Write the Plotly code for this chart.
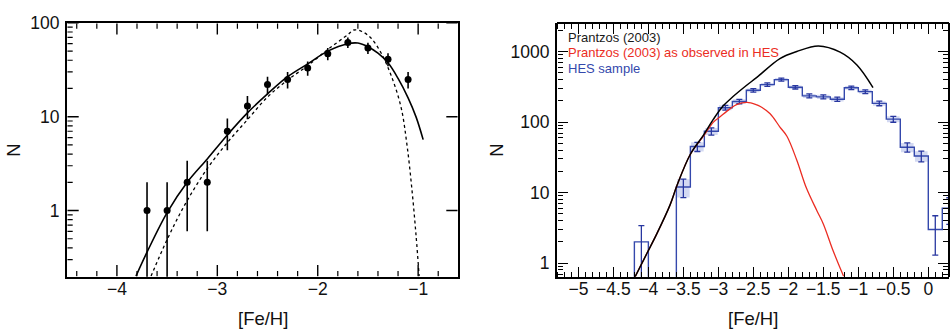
import plotly.graph_objects as go

# ---------------- Left panel data ----------------
obs_feh = [-3.7, -3.5, -3.3, -3.1, -2.9, -2.7, -2.5, -2.3, -2.1, -1.9, -1.7, -1.5, -1.3, -1.1]
obs_n = [1, 1, 2, 2, 7, 13, 22, 25, 33, 47, 62, 54, 41, 25]
obs_err = [1, 1, 1.4, 1.4, 2.6, 3.6, 4.7, 5.0, 5.7, 6.9, 7.9, 7.3, 6.4, 5.0]

solid_feh = [-3.81, -3.70, -3.50, -3.30, -3.10, -2.90, -2.70, -2.50, -2.30, -2.10, -1.90,
             -1.70, -1.60, -1.50, -1.40, -1.30, -1.20, -1.10, -1.02, -0.95]
solid_n = [0.2, 0.36, 0.95, 2.0, 3.55, 6.4, 11, 17.5, 26.7, 36.6, 50,
           60, 61, 55.7, 47.5, 37.5, 25.6, 15.9, 9.9, 5.7]

dotted_feh = [-3.66, -3.50, -3.32, -3.10, -2.90, -2.70, -2.50, -2.30, -2.10, -1.90, -1.70,
              -1.64, -1.56, -1.47, -1.37, -1.27, -1.17, -1.11, -1.06, -1.02, -0.99]
dotted_n = [0.2, 0.49, 1.17, 2.8, 5.3, 9.3, 16.2, 24.6, 35, 52, 75,
            84, 81, 69, 48, 27.7, 12.6, 4.9, 1.6, 0.53, 0.2]

# ---------------- Right panel data ----------------
hes_left_edges = [-4.2, -4.0, -3.8, -3.6, -3.4, -3.2, -3.0, -2.8, -2.6, -2.4, -2.2, -2.0,
                  -1.8, -1.6, -1.4, -1.2, -1.0, -0.8, -0.6, -0.4, -0.2, 0.0, 0.2]
hes_n = [2, 0, 0, 12, 45, 74, 160, 196, 282, 340, 400, 312,
         235, 228, 211, 306, 270, 184, 110, 44, 33, 3, 6]
hes_err = [1.4, 0, 0, 3.5, 6.7, 8.6, 12.6, 14.0, 16.8, 18.4, 20.0, 17.7,
           15.3, 15.1, 14.5, 17.5, 16.4, 13.6, 10.5, 6.6, 5.7, 1.7, 2.45]
bin_width = 0.2
right_end = 0.4

prantzos_feh = [-4.19, -4.02, -3.88, -3.69, -3.59, -3.40, -3.21, -3.07, -2.93, -2.79,
                -2.60, -2.45, -2.12, -1.88, -1.57, -1.26, -1.02, -0.79]
prantzos_n = [0.64, 1.38, 2.6, 6.7, 12.7, 35, 66, 110, 170, 230,
              330, 430, 795, 1000, 1200, 980, 645, 308]

hesobs_feh = [-4.19, -4.02, -3.88, -3.69, -3.59, -3.40, -3.21, -3.07, -2.98, -2.83, -2.74,
              -2.59, -2.45, -2.40, -2.26, -2.12, -2.02, -1.88, -1.74, -1.59, -1.50, -1.36, -1.21]
hesobs_n = [0.64, 1.38, 2.6, 6.7, 12.7, 35, 64, 100, 118, 155, 177,
            190, 175, 166, 131, 85, 63, 29, 11.5, 5.5, 3.6, 1.5, 0.65]

legend_labels = ["Prantzos (2003)", "Prantzos (2003) as observed in HES", "HES sample"]

# left-panel axis tick positions
left_x_major = [-4, -3, -2, -1]
left_x_minor = [-4.4, -4.2, -3.8, -3.6, -3.4, -3.2, -2.8, -2.6, -2.4, -2.2, -1.8, -1.6, -1.4, -1.2, -0.8]
left_y_major = [1, 10, 100]
left_y_minor = [0.3, 0.4, 0.5, 0.6, 0.7, 0.8, 0.9, 2, 3, 4, 5, 6, 7, 8, 9, 20, 30, 40, 50, 60, 70, 80, 90]

# ---------------- style ----------------
W, H = 952, 334
BLUE = "rgb(52,72,172)"
BLUE_LIGHT = "rgba(120,140,215,0.33)"
RED = "rgb(235,45,35)"
FONT = "Liberation Sans, Arial, Helvetica, sans-serif"
TICKFONT = dict(family=FONT, size=17.5, color="#111")

ytop = 1 - 13.3 / H
ybot = 1 - 275 / H
LX0, LX1 = 66.7 / W, 458.3 / W
RX0, RX1 = 556.7 / W, 949 / W
PH = 275 - 13.3
LPW = 458.3 - 66.7

L_XR = [-4.5, -0.6]
L_YR = [-0.706, 2.0]
R_XR = [-5.31, 0.296]
R_YR = [-0.193, 3.406]

fig = go.Figure()

# Left panel
fig.add_trace(go.Scatter(x=solid_feh, y=solid_n, mode="lines", line=dict(color="black", width=1.6, shape="spline"),
                         xaxis="x", yaxis="y", showlegend=False))
fig.add_trace(go.Scatter(x=dotted_feh, y=dotted_n, mode="lines", line=dict(color="black", width=1.3, dash="dot", shape="spline"),
                         xaxis="x", yaxis="y", showlegend=False))
err_minus = [min(e, n * 0.995) for e, n in zip(obs_err, obs_n)]
fig.add_trace(go.Scatter(x=obs_feh, y=obs_n, mode="markers",
                         marker=dict(color="black", size=7),
                         error_y=dict(type="data", array=obs_err, arrayminus=err_minus, color="black",
                                      thickness=1.6, width=0),
                         xaxis="x", yaxis="y", showlegend=False))


# left-panel inside ticks, drawn as error-bar strokes through the panel's own axis scales
def yfrac(f):
    return 10 ** (L_YR[0] + f * (L_YR[1] - L_YR[0]))


def xfrac(f):
    return L_XR[0] + f * (L_XR[1] - L_XR[0])


def add_left_ticks(xvals, yvals, length, width, right_side):
    fx = length / PH
    fy = length / LPW
    eps = 0.002
    # bottom ticks (upwards)
    fig.add_trace(go.Scatter(x=xvals, y=[yfrac(eps)] * len(xvals), mode="markers",
                             marker=dict(size=1, color="rgba(0,0,0,0)"),
                             error_y=dict(type="data", symmetric=False,
                                          array=[yfrac(fx) - yfrac(eps)] * len(xvals),
                                          arrayminus=[0] * len(xvals), color="black", thickness=width, width=0),
                             xaxis="x", yaxis="y", showlegend=False, hoverinfo="skip"))
    # top ticks (downwards)
    fig.add_trace(go.Scatter(x=xvals, y=[yfrac(1 - eps)] * len(xvals), mode="markers",
                             marker=dict(size=1, color="rgba(0,0,0,0)"),
                             error_y=dict(type="data", symmetric=False, array=[0] * len(xvals),
                                          arrayminus=[yfrac(1 - eps) - yfrac(1 - fx)] * len(xvals),
                                          color="black", thickness=width, width=0),
                             xaxis="x", yaxis="y", showlegend=False, hoverinfo="skip"))
    # left ticks (rightwards)
    fig.add_trace(go.Scatter(x=[xfrac(eps)] * len(yvals), y=yvals, mode="markers",
                             marker=dict(size=1, color="rgba(0,0,0,0)"),
                             error_x=dict(type="data", symmetric=False, array=[xfrac(fy) - xfrac(eps)] * len(yvals),
                                          arrayminus=[0] * len(yvals), color="black", thickness=width, width=0),
                             xaxis="x", yaxis="y", showlegend=False, hoverinfo="skip"))
    if right_side:
        fig.add_trace(go.Scatter(x=[xfrac(1 - eps)] * len(yvals), y=yvals, mode="markers",
                                 marker=dict(size=1, color="rgba(0,0,0,0)"),
                                 error_x=dict(type="data", symmetric=False, array=[0] * len(yvals),
                                              arrayminus=[xfrac(1 - eps) - xfrac(1 - fy)] * len(yvals),
                                              color="black", thickness=width, width=0),
                                 xaxis="x", yaxis="y", showlegend=False, hoverinfo="skip"))


add_left_ticks(left_x_major, left_y_major, 12, 1.4, True)
add_left_ticks(left_x_minor, left_y_minor, 6, 1.2, False)

# Right panel: error boxes (light)
centers = [e + bin_width / 2 for e in hes_left_edges]
box_x, box_base, box_h = [], [], []
for c, n, e in zip(centers, hes_n, hes_err):
    if n >= 10:
        box_x.append(c)
        box_base.append(n - e)
        box_h.append(2 * e)
fig.add_trace(go.Bar(x=box_x, y=box_h, base=box_base, width=bin_width * 0.9,
                     marker=dict(color=BLUE_LIGHT, line=dict(width=0)),
                     xaxis="x2", yaxis="y2", showlegend=False))

# step histogram
floor = 0.01
vals = [n if n > 0 else floor for n in hes_n]
step_x = [hes_left_edges[0]] + hes_left_edges + [right_end]
step_y = [floor] + vals + [vals[-1]]
fig.add_trace(go.Scatter(x=step_x, y=step_y, mode="lines", line=dict(color=BLUE, width=1.4, shape="hv"),
                         xaxis="x2", yaxis="y2", showlegend=False))
# error bars
eb_x = [c for c, n in zip(centers, hes_n) if n > 0]
eb_y = [n for n in hes_n if n > 0]
eb_e = [e for e, n in zip(hes_err, hes_n) if n > 0]
eb_em = [min(e, n * 0.995) for e, n in zip(eb_e, eb_y)]
fig.add_trace(go.Scatter(x=eb_x, y=eb_y, mode="markers", marker=dict(size=1, color="rgba(0,0,0,0)"),
                         error_y=dict(type="data", array=eb_e, arrayminus=eb_em, color="rgb(40,55,160)",
                                      thickness=1.3, width=3),
                         xaxis="x2", yaxis="y2", showlegend=False))

fig.add_trace(go.Scatter(x=hesobs_feh, y=hesobs_n, mode="lines", line=dict(color=RED, width=1.3, shape="spline"),
                         xaxis="x2", yaxis="y2", showlegend=False))
fig.add_trace(go.Scatter(x=prantzos_feh, y=prantzos_n, mode="lines", line=dict(color="black", width=1.5, shape="spline"),
                         xaxis="x2", yaxis="y2", showlegend=False))

# invisible traces so that the right-panel tick-only frame axes are drawn
for xa, ya in [("x4", "y2"), ("x6", "y2"), ("x2", "y4"), ("x2", "y6")]:
    fig.add_trace(go.Scatter(x=eb_x, y=eb_y, mode="markers", marker=dict(opacity=0, size=1),
                             xaxis=xa, yaxis=ya, showlegend=False, hoverinfo="skip"))

# ---------------- axes ----------------
line = dict(showline=True, linecolor="black", linewidth=1.5, showgrid=False, zeroline=False)
nolabel = dict(showticklabels=False, showgrid=False, zeroline=False)


def tick_x(dtick, minor_dtick, major_len, minor_len):
    return dict(tickmode="linear", tick0=0, dtick=dtick, ticks="outside", ticklen=major_len, tickwidth=1.3,
                tickcolor="black",
                minor=dict(dtick=minor_dtick, ticks="outside", ticklen=minor_len, tickcolor="black", tickwidth=1.1))


def tick_y(major_len, minor_len):
    return dict(type="log", tickmode="linear", tick0=0, dtick=1, ticks="outside", ticklen=major_len, tickwidth=1.3,
                tickcolor="black",
                minor=dict(dtick="D1", ticks="outside", ticklen=minor_len, tickcolor="black", tickwidth=1.1))


fig.update_layout(
    width=W, height=H, margin=dict(l=0, r=0, t=0, b=0),
    paper_bgcolor="white", plot_bgcolor="white", barmode="overlay",
    xaxis=dict(domain=[LX0, LX1], range=L_XR, anchor="y", tickmode="linear", tick0=0, dtick=1, ticks="",
               mirror=True, tickfont=TICKFONT, ticklabelstandoff=-5, **line),
    yaxis=dict(domain=[ybot, ytop], type="log", range=L_YR, anchor="x", tickmode="linear", tick0=0, dtick=1,
               exponentformat="none", ticks="", mirror=True, tickfont=TICKFONT, ticklabelstandoff=2, **line),
    xaxis2=dict(domain=[RX0, RX1], range=R_XR, anchor="y2", tickmode="linear", tick0=0, dtick=0.5, ticks="",
                tickfont=TICKFONT, ticklabelstandoff=-5, **line),
    yaxis2=dict(domain=[ybot, ytop], type="log", range=R_YR, anchor="x2", tickmode="linear", tick0=0, dtick=1,
                exponentformat="none", ticks="", tickfont=TICKFONT, ticklabelstandoff=2, **line),
    xaxis4=dict(overlaying="x2", anchor="free", position=ybot, side="top", range=R_XR, **tick_x(0.5, 0.1, 10, 5), **nolabel),
    xaxis6=dict(overlaying="x2", anchor="free", position=ytop, side="bottom", range=R_XR, **tick_x(0.5, 0.1, 10, 5),
                showticklabels=False, **line),
    yaxis4=dict(overlaying="y2", anchor="free", position=RX0, side="right", range=R_YR, **tick_y(10, 5), **nolabel),
    yaxis6=dict(overlaying="y2", anchor="free", position=RX1, side="left", range=R_YR, **tick_y(10, 5),
                showticklabels=False, **line),
)

ann = []
titlefont = dict(family=FONT, size=18.5, color="#111")
ann.append(dict(text="[Fe/H]", x=(LX0 + LX1) / 2, y=1 - 318 / H, xref="paper", yref="paper",
                showarrow=False, font=titlefont, xanchor="center", yanchor="middle"))
ann.append(dict(text="[Fe/H]", x=(RX0 + RX1) / 2, y=1 - 318 / H, xref="paper", yref="paper",
                showarrow=False, font=titlefont, xanchor="center", yanchor="middle"))
ann.append(dict(text="N", x=14 / W, y=1 - 145 / H, xref="paper", yref="paper", textangle=-90,
                showarrow=False, font=titlefont, xanchor="center", yanchor="middle"))
ann.append(dict(text="N", x=497 / W, y=1 - 145 / H, xref="paper", yref="paper", textangle=-90,
                showarrow=False, font=titlefont, xanchor="center", yanchor="middle"))
for lab, col, yy in zip(legend_labels, ["#1a1a1a", RED, BLUE], [28.3, 44.3, 60.0]):
    ann.append(dict(text=lab, x=566 / W, y=1 - yy / H, xref="paper", yref="paper", showarrow=False,
                    font=dict(family=FONT, size=13, color=col), xanchor="left", yanchor="middle"))
fig.update_layout(annotations=ann)

fig.write_html("out.html")
